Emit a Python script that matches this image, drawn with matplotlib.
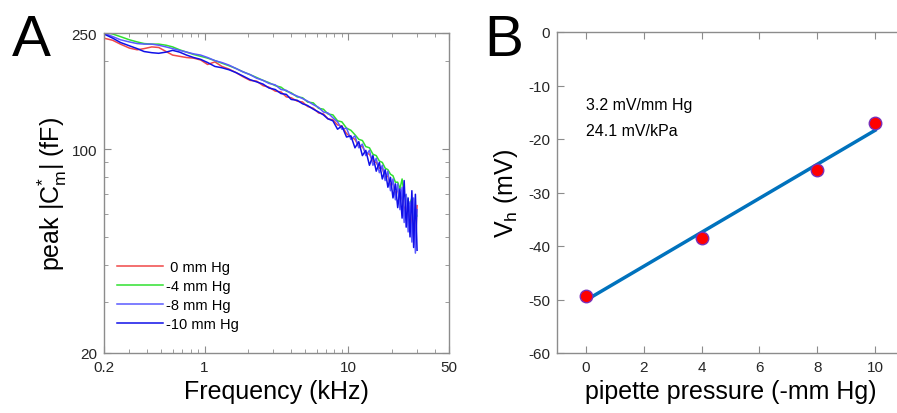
import numpy as np
import matplotlib
matplotlib.use('Agg')
import matplotlib.pyplot as plt
from matplotlib.ticker import FixedLocator, NullFormatter

plt.rcParams['font.family'] = ['Liberation Sans', 'DejaVu Sans']
plt.rcParams['mathtext.fontset'] = 'custom'
plt.rcParams['mathtext.rm'] = 'Liberation Sans'
plt.rcParams['mathtext.it'] = 'Liberation Sans'
plt.rcParams['axes.unicode_minus'] = False

# panel A: peak |Cm*| vs frequency, one trace per pipette pressure
freq_khz = [0.20, 0.23, 0.26, 0.30, 0.34, 0.38, 0.43, 0.48, 0.54, 0.60,
            0.67, 0.75, 0.84, 0.94, 1.05, 1.18, 1.32, 1.48, 1.65, 1.85,
            2.07, 2.3, 2.55, 2.8, 3.1, 3.4, 3.7, 4.0, 4.4, 4.8,
            5.2, 5.7, 6.2, 6.7, 7.2, 7.8, 8.4, 9.0, 9.7, 10.4,
            11.1, 11.8, 12.5, 13.2, 14.0, 14.8, 15.6, 16.4, 17.2, 18.0,
            18.8, 19.6, 20.4, 21.2, 22.0, 22.8, 23.6, 24.4, 25.2, 26.0,
            26.8, 27.6, 28.4, 29.2, 30.0]

cm_0 = [240, 236, 229, 222, 219, 221, 224, 223, 216, 210,
        208, 206, 205, 202, 195, 199, 192, 188, 183, 177,
        172, 171, 165, 163, 158, 157, 151, 150, 146, 145,
        140, 138, 133, 132, 127, 126, 121, 120, 113, 110,
        108, 102, 102, 97, 96, 91, 90, 86, 86, 80,
        81, 75, 77, 70, 73, 66, 70, 61, 65, 57,
        62, 54, 60, 47, 64]
cm_4 = [252, 248, 243, 237, 233, 230, 229, 229, 227, 224,
        219, 215, 211, 208, 205, 201, 197, 193, 189, 184,
        180, 176, 172, 169, 165, 163, 158, 156, 151, 150,
        145, 144, 138, 137, 132, 131, 125, 124, 118, 116,
        112, 108, 107, 102, 101, 96, 95, 91, 90, 86,
        85, 82, 81, 77, 77, 73, 79, 70, 69, 65,
        65, 68, 62, 61, 59]
cm_8 = [250, 243, 237, 233, 230, 229, 229, 227, 224, 221,
        218, 215, 212, 210, 206, 201, 198, 194, 189, 184,
        180, 175, 172, 168, 166, 160, 159, 155, 152, 149,
        146, 142, 139, 134, 133, 128, 124, 117, 118, 108,
        111, 101, 104, 95, 99, 88, 93, 83, 88, 78,
        84, 72, 79, 67, 76, 62, 74, 56, 70, 52,
        66, 48, 68, 44, 62]
cm_10 = [248, 240, 232, 226, 221, 216, 214, 213, 215, 218,
         215, 210, 206, 203, 198, 192, 190, 187, 183, 178,
         173, 170, 167, 162, 160, 155, 154, 148, 147, 143,
         141, 137, 134, 131, 127, 125, 117, 120, 110, 111,
         101, 106, 95, 99, 88, 95, 84, 90, 79, 85,
         74, 80, 68, 76, 63, 73, 58, 78, 54, 68,
         50, 72, 46, 70, 45]

trace_labels = [' 0 mm Hg', '-4 mm Hg', '-8 mm Hg', '-10 mm Hg']
trace_colors = ['#f04848', '#30e030', '#5a5aff', '#1010e8']

# panel B: half-activation voltage vs pipette pressure
pressure = [0, 4, 8, 10]
vh_mv = [-49.3, -38.5, -25.8, -17.1]

fig = plt.figure(figsize=(8.97, 4.14), dpi=100)
spine_gray = '#8c8c8c'

# ---- panel A ----
axA = fig.add_axes([104/897, 60/414, 345/897, 320/414])
for vals, lab, col in zip([cm_0, cm_4, cm_8, cm_10], trace_labels, trace_colors):
    axA.plot(freq_khz, vals, color=col, lw=1.1, label=lab)
axA.set_xscale('log')
axA.set_yscale('log')
axA.set_xlim(0.2, 50)
axA.set_ylim(20, 250)
axA.xaxis.set_major_locator(FixedLocator([0.2, 1, 10, 50]))
axA.set_xticklabels(['0.2', '1', '10', '50'])
axA.xaxis.set_minor_locator(FixedLocator([0.3, 0.4, 0.5, 0.6, 0.7, 0.8, 0.9,
                                          2, 3, 4, 5, 6, 7, 8, 9, 20, 30, 40]))
axA.xaxis.set_minor_formatter(NullFormatter())
axA.yaxis.set_major_locator(FixedLocator([20, 100, 250]))
axA.set_yticklabels(['20', '100', '250'])
axA.yaxis.set_minor_locator(FixedLocator([30, 40, 50, 60, 70, 80, 90, 200]))
axA.yaxis.set_minor_formatter(NullFormatter())
axA.set_xlabel('Frequency (kHz)', fontsize=18, labelpad=4)
axA.set_ylabel(r'peak $|\mathrm{C}^{*}_{\mathrm{m}}|$ (fF)', fontsize=18, labelpad=2)
leg = axA.legend(loc='lower left', bbox_to_anchor=(0.02, 0.05), frameon=False,
                 fontsize=10.5, handlelength=3.2, handletextpad=0.2,
                 labelspacing=0.35, borderaxespad=0)

# ---- panel B ----
axB = fig.add_axes([557/897, 60/414, 347/897, 321/414])
slope, icpt = np.polyfit(pressure, vh_mv, 1)
fit_x = np.array([pressure[0], pressure[-1]])
axB.plot(fit_x, slope * fit_x + icpt, color='#0072BD', lw=2.5, zorder=2)
axB.plot(pressure, vh_mv, 'o', ms=9, mfc='#ff0000', mec='#7a2fb8', mew=1.0, zorder=3)
axB.set_xlim(-1, 11)
axB.set_ylim(-60, 0)
axB.set_xticks([0, 2, 4, 6, 8, 10])
axB.set_yticks([-60, -50, -40, -30, -20, -10, 0])
axB.set_xlabel('pipette pressure (-mm Hg)', fontsize=18, labelpad=4)
axB.set_ylabel(r'V$_\mathrm{h}$ (mV)', fontsize=18, labelpad=6)
axB.text(0, -13.5, '3.2 mV/mm Hg', fontsize=11.5, va='center')
axB.text(0, -18.5, '24.1 mV/kPa', fontsize=11.5, va='center')

for ax in (axA, axB):
    for s in ax.spines.values():
        s.set_color(spine_gray)
        s.set_linewidth(1.0)
    ax.tick_params(which='both', direction='in', top=True, right=True,
                   color=spine_gray, labelsize=11, labelcolor='#262626', pad=5)
    ax.tick_params(which='major', length=5)
    ax.tick_params(which='minor', length=3)

fig.text(12/897, 1 - 56/414, 'A', fontsize=42, ha='left', va='baseline')
fig.text(484/897, 1 - 56/414, 'B', fontsize=42, ha='left', va='baseline')

fig.savefig('out.png', dpi=100)
